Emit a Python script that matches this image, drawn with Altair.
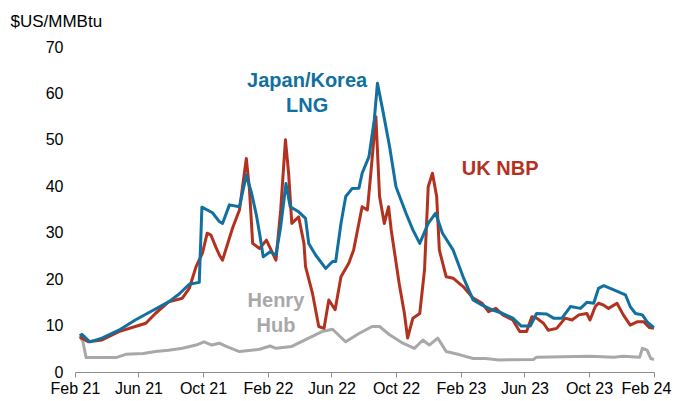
import altair as alt
import pandas as pd

# ---- Data ($US/MMBtu) ----
lng_dates = ["2021-02-10","2021-02-14","2021-03-01","2021-03-24","2021-04-25","2021-05-26","2021-06-27","2021-07-28",
             "2021-08-17","2021-09-05","2021-09-24","2021-09-29","2021-10-19","2021-11-01","2021-11-07","2021-11-20",
             "2021-12-09","2021-12-22","2022-01-01","2022-01-10","2022-01-16","2022-01-23","2022-02-05","2022-02-16",
             "2022-02-25","2022-03-07","2022-03-15","2022-03-31","2022-04-13","2022-04-19","2022-05-02","2022-05-21",
             "2022-06-03","2022-06-09","2022-06-19","2022-06-28","2022-07-10","2022-07-23","2022-07-29","2022-08-11",
             "2022-08-21","2022-08-27","2022-09-06","2022-09-19","2022-10-01","2022-10-20","2022-11-02","2022-11-15",
             "2022-12-01","2022-12-15","2022-12-28","2023-01-17","2023-02-05","2023-02-24","2023-03-13","2023-04-01",
             "2023-04-21","2023-05-10","2023-05-26","2023-06-12","2023-06-24","2023-07-13","2023-07-26","2023-08-11",
             "2023-08-27","2023-09-15","2023-09-27","2023-10-10","2023-10-19","2023-10-29","2023-11-17","2023-12-09",
             "2023-12-18","2023-12-28","2024-01-10","2024-01-19","2024-01-29","2024-02-01"]
lng_values = [7.8, 8.1, 6.5, 7.3, 9.0, 11.2, 13.2, 15.1, 16.8, 18.9, 19.3, 35.5, 34.3, 32.4, 32.0, 36.0,
              35.6, 42.4, 38.5, 33.8, 29.9, 24.8, 25.9, 25.2, 31.3, 40.6, 35.6, 34.5, 33.1, 27.7, 25.2, 22.3,
              23.8, 23.8, 32.0, 37.8, 39.5, 39.6, 42.8, 46.4, 54.3, 62.2, 56.4, 48.5, 39.9, 34.2, 30.6, 27.7,
              32.0, 34.2, 29.9, 26.3, 20.5, 15.5, 14.4, 13.4, 12.6, 11.6, 9.9, 9.9, 12.6, 12.5, 11.6, 11.6,
              14.1, 13.7, 15.0, 14.8, 18.0, 18.6, 17.7, 16.6, 14.1, 12.6, 12.3, 10.8, 9.8, 9.6]

nbp_dates = ["2021-02-10","2021-02-14","2021-02-26","2021-03-24","2021-04-25","2021-05-26","2021-06-15","2021-07-03",
             "2021-07-28","2021-08-23","2021-09-05","2021-09-18","2021-09-30","2021-10-09","2021-10-16","2021-10-25",
             "2021-11-01","2021-11-07","2021-11-26","2021-12-09","2021-12-22","2021-12-28","2022-01-03","2022-01-16",
             "2022-01-29","2022-02-16","2022-02-25","2022-03-06","2022-03-12","2022-03-18","2022-03-31","2022-04-10",
             "2022-04-13","2022-04-26","2022-05-08","2022-05-18","2022-05-27","2022-06-08","2022-06-19","2022-07-04",
             "2022-07-13","2022-07-29","2022-08-08","2022-08-15","2022-08-24","2022-08-31","2022-09-09","2022-09-17",
             "2022-09-22","2022-10-07","2022-10-17","2022-10-23","2022-11-02","2022-11-15","2022-11-24","2022-12-01",
             "2022-12-09","2022-12-17","2022-12-22","2023-01-04","2023-01-17","2023-02-05","2023-02-24","2023-03-13",
             "2023-03-25","2023-04-08","2023-04-21","2023-05-10","2023-05-23","2023-06-05","2023-06-15","2023-06-24",
             "2023-07-07","2023-07-16","2023-08-01","2023-08-17","2023-08-30","2023-09-12","2023-09-27","2023-10-03",
             "2023-10-13","2023-10-19","2023-10-29","2023-11-07","2023-11-23","2023-12-05","2023-12-18","2023-12-31",
             "2024-01-13","2024-01-23","2024-02-01"]
nbp_values = [7.5, 7.3, 6.5, 6.9, 8.7, 9.8, 10.5, 12.6, 15.1, 15.9, 18.0, 22.7, 25.6, 29.9, 29.5, 27.0,
              25.2, 24.1, 31.0, 34.9, 46.0, 39.2, 27.7, 26.6, 28.4, 24.1, 34.9, 50.0, 42.8, 32.0, 33.4, 27.7,
              22.7, 17.0, 9.8, 9.4, 15.5, 13.4, 20.5, 23.5, 26.3, 35.6, 34.9, 43.5, 55.0, 37.8, 32.0, 35.6,
              30.6, 19.1, 12.6, 7.3, 11.6, 12.6, 22.0, 39.9, 42.8, 37.8, 26.3, 20.5, 20.2, 18.4, 15.9, 14.8,
              13.0, 13.7, 12.3, 11.2, 8.7, 8.7, 11.9, 11.6, 10.5, 9.0, 9.4, 11.6, 11.2, 12.3, 12.6, 11.2,
              14.1, 14.8, 14.4, 13.7, 14.8, 12.3, 10.1, 10.8, 10.8, 9.6, 9.4]

hh_dates = ["2021-02-10","2021-02-16","2021-02-22","2021-04-20","2021-04-25","2021-05-08","2021-06-10","2021-07-03",
            "2021-07-28","2021-08-23","2021-09-18","2021-10-03","2021-10-18","2021-11-01","2021-11-14","2021-12-09",
            "2022-01-16","2022-02-05","2022-02-16","2022-03-18","2022-04-19","2022-05-14","2022-06-03","2022-06-28",
            "2022-07-23","2022-08-17","2022-08-31","2022-09-19","2022-10-14","2022-11-05","2022-11-21","2022-12-03",
            "2022-12-19","2023-01-04","2023-01-30","2023-02-24","2023-03-19","2023-04-14","2023-06-18","2023-06-24",
            "2023-10-03","2023-11-17","2023-12-05","2024-01-05","2024-01-10","2024-01-19","2024-01-26","2024-02-01"]
hh_values = [7.8, 6.5, 3.1, 3.1, 3.3, 3.8, 4.0, 4.4, 4.7, 5.1, 5.8, 6.5, 5.8, 6.2, 5.5, 4.4,
             4.9, 5.6, 5.1, 5.5, 7.3, 8.7, 9.2, 6.5, 8.3, 9.8, 9.8, 8.0, 6.2, 5.1, 6.9, 5.8,
             7.3, 4.4, 3.7, 2.9, 2.9, 2.6, 2.7, 3.2, 3.4, 3.2, 3.4, 3.2, 5.1, 4.7, 2.9, 2.7]

series_names = ["Henry Hub", "UK NBP", "Japan/Korea LNG"]
series_colors = ["#A8A8A8", "#B3321F", "#11709F"]

label_dates = ["2022-04-16", "2022-04-16", "2023-04-16", "2022-02-16", "2022-02-16"]
label_values = [61.4, 56.1, 42.4, 14.0, 8.7]
label_texts = ["Japan/Korea", "LNG", "UK NBP", "Henry", "Hub"]
label_colors = ["#11709F", "#11709F", "#B3321F", "#A8A8A8", "#A8A8A8"]

tick_dates = [(2021, 2), (2021, 6), (2021, 10), (2022, 2), (2022, 6), (2022, 10),
              (2023, 2), (2023, 6), (2023, 10), (2024, 2)]
y_ticks = [0, 10, 20, 30, 40, 50, 60, 70]

# ---- Build tables ----
frames = [
    pd.DataFrame({"date": hh_dates, "value": hh_values, "series": "Henry Hub"}),
    pd.DataFrame({"date": nbp_dates, "value": nbp_values, "series": "UK NBP"}),
    pd.DataFrame({"date": lng_dates, "value": lng_values, "series": "Japan/Korea LNG"}),
]
labels = pd.DataFrame({"date": label_dates, "value": label_values,
                       "text": label_texts, "color": label_colors})

FONT = "Liberation Sans"

x_scale = alt.Scale(type="utc", domain=[alt.DateTime(year=2021, month=2, date=1, utc=True),
                                        alt.DateTime(year=2024, month=2, date=1, utc=True)])
y_scale = alt.Scale(domain=[0, 70])

x_axis = alt.Axis(values=[alt.DateTime(year=y, month=m, date=1, utc=True) for y, m in tick_dates],
                  labelExpr="utcFormat(datum.value, '%b %y')",
                  labelOverlap=False, labelFlush=False, labelBound=False,
                  labelOffset={"condition": {"test": "datum.index > 0.95", "value": -8}, "value": 0},
                  grid=False, domainColor="#8C8C8C", tickColor="#8C8C8C", tickSize=5,
                  labelFontSize=16, labelColor="#000000", labelPadding=3, labelFont=FONT)
y_axis = alt.Axis(values=y_ticks, domain=False, ticks=False, grid=False, labelPadding=12,
                  labelOverlap=False, labelFlush=False,
                  labelFontSize=16, labelColor="#000000", labelFont=FONT,
                  title="$US/MMBtu", titleAngle=0, titleAlign="left", titleBaseline="alphabetic",
                  titleX=-65, titleY=-21, titleFontWeight="normal", titleFontSize=17,
                  titleColor="#000000", titleFont=FONT)

X = alt.X("date:T", scale=x_scale, axis=x_axis, title=None)
Y = alt.Y("value:Q", scale=y_scale, axis=y_axis)

layers = []
for f, col in zip(frames, series_colors):
    layers.append(alt.Chart(f).mark_line(color=col, strokeWidth=3, strokeJoin="round").encode(x=X, y=Y))

text_layer = alt.Chart(labels).mark_text(fontWeight="bold", fontSize=20, align="center",
                                         baseline="alphabetic", font=FONT).encode(
    x=X, y=Y,
    text="text:N",
    color=alt.Color("color:N", scale=None),
)

chart = alt.layer(*layers, text_layer).properties(
    width=579, height=325,
    autosize=alt.AutoSizeParams(type="none"),
    padding={"left": 67, "top": 39, "right": 18, "bottom": 29},
).configure(font=FONT, view=alt.ViewConfig(stroke=None))

chart.save("out.html", embed_options={"renderer": "svg", "actions": False})
